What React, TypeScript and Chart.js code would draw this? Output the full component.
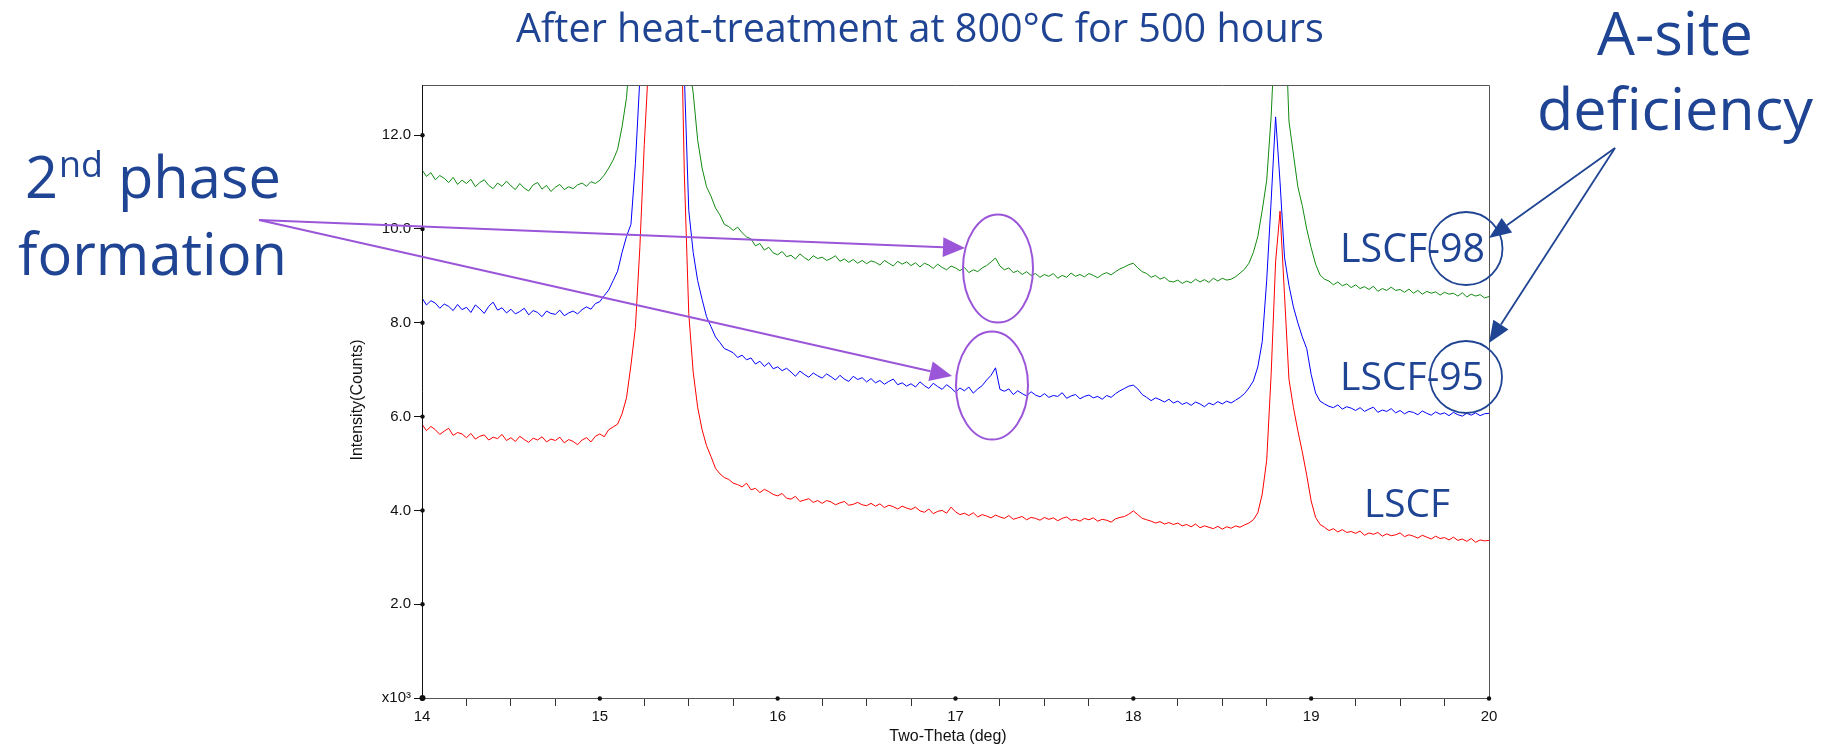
import React, { useEffect, useRef } from "react";
import { Chart, registerables } from "chart.js";

Chart.register(...registerables);

// ---- data (two-theta sampled every 0.025 deg from 14 to 20) ----
const X_START = 14;
const X_STEP = 0.025;

const LSCF = [
  5.84, 5.70, 5.79, 5.72, 5.62, 5.69, 5.75, 5.60, 5.66, 5.63,
  5.55, 5.64, 5.52, 5.58, 5.61, 5.50, 5.56, 5.53, 5.62, 5.49,
  5.55, 5.47, 5.58, 5.51, 5.45, 5.54, 5.50, 5.57, 5.46, 5.52,
  5.49, 5.56, 5.44, 5.51, 5.47, 5.40, 5.50, 5.55, 5.46, 5.58,
  5.63, 5.57, 5.72, 5.78, 5.84, 6.06, 6.40, 7.10, 7.90, 9.60,
  11.8, 13.6, 16, 20, 24, 26, 24, 20, 16, 11.2,
  8.20, 6.95, 6.20, 5.72, 5.38, 5.15, 4.90, 4.78, 4.70, 4.66,
  4.58, 4.55, 4.50, 4.58, 4.44, 4.47, 4.38, 4.45, 4.40, 4.34,
  4.31, 4.36, 4.26, 4.24, 4.30, 4.19, 4.22, 4.25, 4.17, 4.21,
  4.15, 4.21, 4.18, 4.12, 4.16, 4.19, 4.11, 4.13, 4.17, 4.12,
  4.10, 4.15, 4.09, 4.14, 4.06, 4.11, 4.08, 4.03, 4.09, 4.05,
  4.02, 4.07, 3.99, 3.96, 4.03, 3.93, 3.98, 4.00, 3.94, 4.07,
  3.97, 3.91, 3.94, 3.89, 3.95, 3.86, 3.91, 3.88, 3.84, 3.90,
  3.86, 3.83, 3.89, 3.81, 3.84, 3.87, 3.80, 3.85, 3.83, 3.79,
  3.85, 3.81, 3.84, 3.78, 3.83, 3.86, 3.79, 3.81, 3.77, 3.83,
  3.80, 3.84, 3.77, 3.81, 3.79, 3.75, 3.82, 3.85, 3.87, 3.92,
  3.99, 3.91, 3.83, 3.80, 3.77, 3.73, 3.76, 3.71, 3.74, 3.70,
  3.73, 3.67, 3.70, 3.65, 3.71, 3.63, 3.67, 3.64, 3.61, 3.66,
  3.60, 3.65, 3.62, 3.67, 3.64, 3.69, 3.73, 3.80, 3.95, 4.35,
  5.07, 6.90, 9.30, 10.38, 8.60, 6.80, 6.20, 5.70, 5.25, 4.75,
  4.20, 3.85, 3.70, 3.64, 3.57, 3.61, 3.54, 3.59, 3.53, 3.55,
  3.51, 3.56, 3.47, 3.52, 3.49, 3.53, 3.45, 3.50, 3.46, 3.48,
  3.52, 3.44, 3.48, 3.45, 3.41, 3.47, 3.43, 3.39, 3.45, 3.40,
  3.42, 3.37, 3.43, 3.36, 3.39, 3.34, 3.40, 3.32, 3.37, 3.35,
  3.36,
];

const LSCF_95 = [
  8.53, 8.38, 8.47, 8.42, 8.31, 8.40, 8.35, 8.26, 8.39, 8.28,
  8.33, 8.22, 8.38, 8.30, 8.20, 8.35, 8.44, 8.27, 8.32, 8.21,
  8.29, 8.19, 8.24, 8.31, 8.17, 8.26, 8.22, 8.13, 8.25, 8.20,
  8.18, 8.27, 8.15, 8.21, 8.25, 8.19, 8.28, 8.34, 8.29, 8.41,
  8.45, 8.58, 8.70, 8.90, 9.10, 9.50, 9.84, 10.10, 11.4, 13.2,
  16, 20, 26, 30, 32, 30, 26, 20, 16, 13.3,
  10.40, 9.50, 8.90, 8.50, 8.13, 7.92, 7.70, 7.58, 7.45, 7.41,
  7.36, 7.26, 7.31, 7.21, 7.25, 7.12, 7.18, 7.07, 7.15, 7.02,
  7.06, 6.98, 7.03, 6.95, 6.86, 6.97, 6.90, 6.84, 6.93, 6.87,
  6.82, 6.91, 6.85, 6.78, 6.88, 6.80, 6.75, 6.86, 6.79, 6.83,
  6.74, 6.81, 6.72, 6.77, 6.69, 6.75, 6.80, 6.68, 6.72, 6.65,
  6.70, 6.63, 6.74, 6.66, 6.60, 6.71, 6.64, 6.58, 6.68, 6.61,
  6.52, 6.61, 6.55, 6.63, 6.50, 6.59, 6.66, 6.78, 6.88, 7.04,
  6.58, 6.54, 6.59, 6.47, 6.55, 6.49, 6.44, 6.53, 6.46, 6.42,
  6.49, 6.41, 6.45, 6.43, 6.51, 6.39, 6.44, 6.47, 6.38, 6.43,
  6.46, 6.40, 6.43, 6.37, 6.45, 6.41, 6.49, 6.55, 6.60, 6.65,
  6.67, 6.59, 6.47, 6.41, 6.34, 6.40, 6.36, 6.31, 6.37, 6.29,
  6.33, 6.26, 6.30, 6.24, 6.31, 6.27, 6.21, 6.29, 6.25, 6.32,
  6.27, 6.33, 6.29, 6.35, 6.41, 6.49, 6.61, 6.76, 7.06, 7.60,
  8.91, 10.60, 12.39, 11.00, 9.40, 8.80, 8.34, 8.00, 7.70, 7.45,
  6.90, 6.50, 6.33, 6.27, 6.22, 6.19, 6.25, 6.16, 6.21, 6.18,
  6.13, 6.19, 6.11, 6.16, 6.20, 6.09, 6.14, 6.11, 6.17, 6.08,
  6.13, 6.06, 6.11, 6.09, 6.04, 6.12, 6.07, 6.03, 6.10, 6.05,
  6.08, 6.02, 6.09, 6.04, 6.01, 6.07, 6.03, 6.08, 6.02, 6.06,
  6.07,
];

const LSCF_98 = [
  11.26, 11.12, 11.20, 11.05, 11.14, 11.08, 10.99, 11.10, 10.95, 11.04,
  10.97, 11.06, 10.90, 10.99, 11.05, 10.93, 10.86, 10.98, 10.91, 11.02,
  10.92, 10.84, 10.97, 10.87, 10.81, 10.94, 10.99, 10.85, 10.93, 10.80,
  10.89, 10.95, 10.84, 10.90, 10.86, 10.94, 10.98, 10.91, 11.01, 10.97,
  11.04, 11.15, 11.30, 11.47, 11.70, 12.18, 12.80, 14.0, 18, 24,
  30, 34, 36, 36, 34, 30, 26, 22, 18, 15,
  13.6, 12.9, 11.9, 11.3, 10.9, 10.7, 10.45, 10.30, 10.10, 10.05,
  9.97, 10.04, 9.92, 9.83, 9.79, 9.64, 9.69, 9.55, 9.61, 9.49,
  9.45, 9.52, 9.41, 9.44, 9.36, 9.47, 9.39, 9.33, 9.43, 9.37,
  9.40, 9.33, 9.37, 9.43, 9.31, 9.36, 9.29, 9.35, 9.27, 9.33,
  9.26, 9.32, 9.29, 9.23, 9.33, 9.27, 9.21, 9.31, 9.25, 9.30,
  9.22, 9.28, 9.19, 9.27, 9.23, 9.16, 9.25, 9.18, 9.13, 9.21,
  9.17, 9.11, 9.18, 9.07, 9.13, 9.09, 9.17, 9.22, 9.30, 9.38,
  9.21, 9.13, 9.17, 9.07, 9.11, 9.03, 9.09, 9.01, 9.05, 8.97,
  9.03, 8.99, 9.05, 8.95, 9.01, 8.97, 9.06, 8.99, 9.03, 8.98,
  9.05, 9.01, 8.96, 9.03, 9.07, 9.02, 9.09, 9.15, 9.19, 9.24,
  9.27, 9.17, 9.09, 9.05, 8.97, 9.01, 8.93, 8.97, 8.89, 8.87,
  8.91, 8.84, 8.89, 8.85, 8.93, 8.87, 8.92, 8.86, 8.95, 8.89,
  8.95, 8.91, 8.93, 8.98, 9.06, 9.14, 9.27, 9.50, 9.84, 10.40,
  11.04, 12.4, 14.5, 16, 15, 12.3, 11.6, 10.9, 10.5, 10.0,
  9.60, 9.25, 9.02, 8.93, 8.89, 8.81, 8.87, 8.79, 8.83, 8.75,
  8.81, 8.73, 8.77, 8.71, 8.78, 8.67, 8.73, 8.69, 8.76, 8.69,
  8.71, 8.65, 8.72, 8.63, 8.69, 8.61, 8.67, 8.63, 8.66, 8.59,
  8.65, 8.61, 8.63, 8.57, 8.64, 8.55, 8.61, 8.57, 8.60, 8.53,
  8.56,
];

const X_TICKS = [
  14, 14.25, 14.5, 14.75, 15, 15.25, 15.5, 15.75, 16, 16.25, 16.5, 16.75,
  17, 17.25, 17.5, 17.75, 18, 18.25, 18.5, 18.75, 19, 19.25, 19.5, 19.75, 20,
];
const Y_TICKS = [0, 2, 4, 6, 8, 10, 12];
const X_MIN = 14;
const X_MAX = 20;
const Y_MIN = 0;
const Y_MAX = 13.07;

const TITLE = "After heat-treatment at 800°C for 500 hours";
const X_TITLE = "Two-Theta (deg)";
const Y_TITLE = "Intensity(Counts)";
const SERIES_LABELS = ["LSCF-98", "LSCF-95", "LSCF"];
const SERIES_COLORS = ["#128a12", "#0000ff", "#ff0000"];

// ---- drawing helpers ----
const NAVY = "#1f4493";
const PURPLE = "#9a55d8";
const TEXT_FONT = '"Open Sans"';
const AXIS_FONT = '"Liberation Sans"';

function fitSize(ctx: CanvasRenderingContext2D, text: string, width: number, weight = "400") {
  ctx.font = `${weight} 100px ${TEXT_FONT}`;
  return (100 * width) / ctx.measureText(text).width;
}

function drawFitted(
  ctx: CanvasRenderingContext2D,
  text: string,
  left: number,
  baseline: number,
  width: number,
  color: string
) {
  const size = fitSize(ctx, text, width);
  ctx.font = `400 ${size}px ${TEXT_FONT}`;
  ctx.fillStyle = color;
  ctx.textAlign = "left";
  ctx.textBaseline = "alphabetic";
  ctx.fillText(text, left, baseline);
}

function arrow(
  ctx: CanvasRenderingContext2D,
  x1: number,
  y1: number,
  x2: number,
  y2: number,
  color: string,
  lw: number,
  headLen: number,
  headHalf: number
) {
  const a = Math.atan2(y2 - y1, x2 - x1);
  const bx = x2 - headLen * Math.cos(a);
  const by = y2 - headLen * Math.sin(a);
  ctx.save();
  ctx.strokeStyle = color;
  ctx.fillStyle = color;
  ctx.lineWidth = lw;
  ctx.beginPath();
  ctx.moveTo(x1, y1);
  ctx.lineTo(bx, by);
  ctx.stroke();
  ctx.beginPath();
  ctx.moveTo(x2, y2);
  ctx.lineTo(bx + headHalf * Math.sin(a), by - headHalf * Math.cos(a));
  ctx.lineTo(bx - headHalf * Math.sin(a), by + headHalf * Math.cos(a));
  ctx.closePath();
  ctx.fill();
  ctx.restore();
}

const overlay = {
  id: "overlay",
  afterDraw(chart: any) {
    const ctx: CanvasRenderingContext2D = chart.ctx;
    const { left, top, right, bottom } = chart.chartArea;
    const xs = chart.scales.x;
    const ys = chart.scales.y;
    ctx.save();

    // frame
    ctx.lineWidth = 1;
    ctx.strokeStyle = "#555";
    ctx.beginPath();
    ctx.moveTo(left, top + 0.5);
    ctx.lineTo(right + 0.5, top + 0.5);
    ctx.lineTo(right + 0.5, bottom + 0.5);
    ctx.lineTo(left, bottom + 0.5);
    ctx.stroke();
    ctx.strokeStyle = "#111";
    ctx.beginPath();
    ctx.moveTo(left + 0.5, top);
    ctx.lineTo(left + 0.5, bottom + 0.5);
    ctx.stroke();

    // tick dots
    ctx.fillStyle = "#111";
    Y_TICKS.forEach((v) => {
      ctx.beginPath();
      ctx.arc(left + 0.5, ys.getPixelForValue(v), v === 0 ? 3 : 2.2, 0, Math.PI * 2);
      ctx.fill();
    });
    X_TICKS.filter((v) => Number.isInteger(v)).forEach((v) => {
      ctx.beginPath();
      ctx.arc(xs.getPixelForValue(v), bottom + 0.5, 2.2, 0, Math.PI * 2);
      ctx.fill();
    });

    // axis titles
    ctx.fillStyle = "#111";
    ctx.font = `16px ${AXIS_FONT}`;
    ctx.textAlign = "center";
    ctx.textBaseline = "middle";
    ctx.fillText(X_TITLE, 948, 737);
    ctx.save();
    ctx.translate(358, 400);
    ctx.rotate(-Math.PI / 2);
    ctx.fillText(Y_TITLE, 0, 0);
    ctx.restore();

    // title
    drawFitted(ctx, TITLE, 516, 42, 808, NAVY);

    // series labels
    drawFitted(ctx, SERIES_LABELS[0], 1340, 262, 145, NAVY);
    drawFitted(ctx, SERIES_LABELS[1], 1340, 390, 144, NAVY);
    drawFitted(ctx, SERIES_LABELS[2], 1364, 517, 86, NAVY);

    // "2nd phase formation"
    {
      const s = fitSize(ctx, "formation", 269);
      ctx.fillStyle = NAVY;
      ctx.textAlign = "left";
      ctx.textBaseline = "alphabetic";
      ctx.font = `400 ${s}px ${TEXT_FONT}`;
      ctx.fillText("formation", 18, 275);
      let x = 25;
      ctx.fillText("2", x, 198);
      x += ctx.measureText("2").width + 1;
      ctx.font = `400 ${s * 0.62}px ${TEXT_FONT}`;
      ctx.fillText("nd", x, 198 - s * 0.36);
      x += ctx.measureText("nd").width;
      ctx.font = `400 ${s}px ${TEXT_FONT}`;
      ctx.fillText(" phase", x, 198);
    }

    // "A-site deficiency"
    drawFitted(ctx, "A-site", 1597, 55, 156, NAVY);
    drawFitted(ctx, "deficiency", 1537, 130, 276, NAVY);

    // purple arrows and ellipses
    arrow(ctx, 259, 220, 965, 248, PURPLE, 2, 22, 10);
    arrow(ctx, 259, 220, 952, 376, PURPLE, 2, 22, 10);
    ctx.strokeStyle = PURPLE;
    ctx.lineWidth = 2;
    ctx.beginPath();
    ctx.ellipse(998, 268.5, 35, 54, 0, 0, Math.PI * 2);
    ctx.stroke();
    ctx.beginPath();
    ctx.ellipse(992, 385.5, 36, 54, 0, 0, Math.PI * 2);
    ctx.stroke();

    // navy circles and arrows
    ctx.strokeStyle = NAVY;
    ctx.lineWidth = 1.8;
    ctx.beginPath();
    ctx.arc(1466, 248.5, 36.5, 0, Math.PI * 2);
    ctx.stroke();
    ctx.beginPath();
    ctx.arc(1466, 377, 36, 0, Math.PI * 2);
    ctx.stroke();
    arrow(ctx, 1615, 148, 1489, 238, NAVY, 1.8, 22, 9);
    arrow(ctx, 1615, 148, 1489, 343, NAVY, 1.8, 22, 9);

    ctx.restore();
  },
};

export default function App() {
  const ref = useRef<HTMLCanvasElement | null>(null);

  useEffect(() => {
    const canvas = ref.current;
    if (!canvas) return;
    const angles = LSCF.map((_, i) => +(X_START + i * X_STEP).toFixed(3));
    const series = [LSCF_98, LSCF_95, LSCF];
    const chart = new Chart(canvas, {
      type: "line",
      data: {
        datasets: series.map((vals, k) => ({
          label: SERIES_LABELS[k],
          data: angles.map((x, i) => ({ x, y: vals[i] })),
          borderColor: SERIES_COLORS[k],
          borderWidth: 1,
          pointRadius: 0,
          tension: 0,
          fill: false,
        })),
      },
      options: {
        animation: false,
        responsive: false,
        devicePixelRatio: 1,
        layout: { padding: { left: 344, top: 85, right: 346, bottom: 0 } },
        plugins: {
          legend: { display: false },
          tooltip: { enabled: false },
          title: { display: false },
        },
        scales: {
          x: {
            type: "linear",
            min: X_MIN,
            max: X_MAX,
            afterBuildTicks: (s: any) => {
              s.ticks = X_TICKS.map((v) => ({ value: v }));
            },
            afterFit: (s: any) => {
              s.height = 51;
              s.paddingLeft = 0;
              s.paddingRight = 0;
            },
            border: { display: false },
            grid: {
              drawOnChartArea: false,
              drawTicks: true,
              tickLength: 8,
              color: "rgba(0,0,0,0)",
              tickColor: (c: any) =>
                c.tick && Number.isInteger(c.tick.value) ? "rgba(0,0,0,0)" : "#333",
            },
            ticks: {
              autoSkip: false,
              maxRotation: 0,
              minRotation: 0,
              padding: 2,
              color: "#111",
              font: { family: "Liberation Sans", size: 15 },
              callback: (v: any) => (Number.isInteger(v) ? String(v) : ""),
            },
          },
          y: {
            type: "linear",
            min: Y_MIN,
            max: Y_MAX,
            afterBuildTicks: (s: any) => {
              s.ticks = Y_TICKS.map((v) => ({ value: v }));
            },
            afterFit: (s: any) => {
              s.width = 78;
              s.paddingTop = 0;
              s.paddingBottom = 0;
            },
            border: { display: false },
            grid: {
              drawOnChartArea: false,
              drawTicks: true,
              tickLength: 8,
              color: "rgba(0,0,0,0)",
              tickColor: "#111",
            },
            ticks: {
              padding: 3,
              color: "#111",
              font: { family: "Liberation Sans", size: 15 },
              callback: (v: any) => (v === 0 ? "x10³" : Number(v).toFixed(1)),
            },
          },
        },
      },
      plugins: [overlay],
    });
    return () => chart.destroy();
  }, []);

  return (
    <div style={{ position: "fixed", left: 0, top: 0, width: 1835, height: 749, background: "#fff" }}>
      <canvas ref={ref} width={1835} height={749} style={{ width: 1835, height: 749, display: "block" }} />
    </div>
  );
}
